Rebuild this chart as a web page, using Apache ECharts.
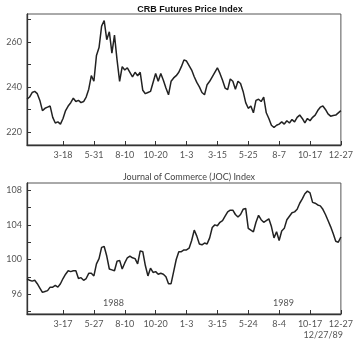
<!DOCTYPE html>
<html><head><meta charset="utf-8">
<script src="https://cdn.jsdelivr.net/npm/echarts@6/dist/echarts.min.js"></script>
<style>html,body{margin:0;padding:0;background:#fff}#c{width:356px;height:346px}</style>
</head><body><div id="c"></div>
<script>
// Tick labels (dates) on each x axis
const crbTickLabels = ['3-18','5-31','8-10','10-20','1-3','3-15','5-25','8-7','10-17','12-27'];
const jocTickLabels = ['3-17','5-27','8-10','10-20','1-3','3-15','5-24','8-4','10-17','12-27'];
// sample points: first labelled tick at sample 14, one tick every 12 samples
const tickStart = 14, tickStep = 12;

// CRB Futures Price Index (roughly weekly samples, 1988-1989)
const crbValues = [
 234.5,235.5,237.5,238,237,234,229.5,230.5,231,231.5,
 226.5,224,224.5,223.5,226,229.5,231.5,233,235,233.5,
 234,233,233.5,235.5,239,245,242.5,254,257.5,267,
 269.5,261,264.5,255,263,252,242.5,249,247.5,248.5,
 246.5,244.5,246.5,245,246.5,238.5,237,237.5,238,242,
 246,242.5,246,243,239.5,236.5,242.5,244,245,246.5,
 249,252,251.5,249.5,247.5,244.5,242,240,237.5,236.5,
 241,242.5,244.5,246.5,248.5,246,243,239.5,238.8,243.5,
 242.5,239,242.5,241.5,238,233,230.5,231.5,228.5,234,
 234.5,233.5,235.5,228.5,226,223,222,223,223.5,224.5,
 223.5,225,224,225.5,224.5,226.5,227.5,226,224,226,
 225,226.5,227.5,229.5,231,231.5,230,228,227,227.3,
 227.5,228.5,229.5
];
// Journal of Commerce (JOC) Index
const jocValues = [
 97.8,97.6,97.5,97.6,97.2,96.7,96.2,96.3,96.4,96.8,
 96.8,97.0,96.8,97.2,97.8,98.3,98.7,98.6,98.7,98.7,
 97.8,97.9,97.6,97.8,98.4,98.4,98.1,99.5,100.1,101.4,
 101.5,100.4,98.9,98.8,98.7,99.8,99.9,98.9,99.6,100.2,
 100.4,100.2,100.1,99.5,101.0,100.9,99.3,98.1,99.0,98.5,
 98.6,98.3,98.4,98.3,98.0,97.2,97.2,98.6,100.0,100.9,
 100.9,101.1,101.1,101.3,102.2,103.4,102.7,101.8,101.7,101.9,
 101.8,102.5,103.7,104.0,103.9,104.3,104.5,105.0,105.5,105.7,
 105.7,105.2,104.9,105.2,105.8,105.9,103.6,103.4,103.2,104.3,
 105.1,104.6,104.3,104.5,104.7,103.8,102.5,103.2,102.2,103.3,
 103.6,104.6,105.0,105.4,105.5,105.8,106.5,107.0,107.6,107.9,
 107.7,106.6,106.5,106.3,106.2,105.8,105.2,104.5,103.8,103.0,
 102.1,102.0,102.6
];

function buildCategories(n, labels) {
  const cats = [];
  for (let i = 0; i < n; i++) {
    const k = (i - tickStart) / tickStep;
    cats.push(i >= tickStart && Number.isInteger(k) && labels[k] !== undefined ? labels[k] : '');
  }
  return cats;
}
const crbCats = buildCategories(crbValues.length, crbTickLabels);
const jocCats = buildCategories(jocValues.length, jocTickLabels);

const txt = '#555';
const fontFam = 'Lato, "DejaVu Sans", sans-serif';

function xAxis(idx, cats) {
  return {
    type: 'category', gridIndex: idx, data: cats, boundaryGap: false,
    axisLine: { lineStyle: { color: '#333', width: 1.3 } },
    axisTick: { inside: true, length: 4, lineStyle: { color: '#333' },
      interval: function (i, v) { return v !== ''; } },
    axisLabel: { color: txt, fontSize: 9, fontFamily: fontFam, margin: 6,
      interval: function (i, v) { return v !== ''; } },
    splitLine: { show: false }
  };
}
function yAxis(idx, min, max, step, labelEvery) {
  return {
    type: 'value', gridIndex: idx, min: min, max: max,
    splitNumber: Math.round((max - min) / step), minInterval: step, maxInterval: step,
    axisLine: { show: true, lineStyle: { color: '#333', width: 1.3 } },
    axisTick: { show: true, inside: true, length: 4, lineStyle: { color: '#333' } },
    axisLabel: { color: txt, fontSize: 9, fontFamily: fontFam, margin: 5,
      showMinLabel: false, showMaxLabel: false,
      formatter: function (v) { return (Math.abs(v % labelEvery) < 1e-6) ? String(v) : ''; } },
    splitLine: { show: false }
  };
}

const chart = echarts.init(document.getElementById('c'), null, { renderer: 'canvas' });
chart.setOption({
  backgroundColor: '#fff',
  animation: false,
  title: [
    { text: 'CRB Futures Price Index', left: 185, top: 0, textAlign: 'center',
      textStyle: { fontSize: 9, fontWeight: 'bold', color: '#111', fontFamily: '"Liberation Sans", Arial, sans-serif' } },
    { text: 'Journal of Commerce (JOC) Index', left: 184, top: 168, textAlign: 'center',
      textStyle: { fontSize: 9, fontWeight: 'normal', color: '#444', fontFamily: fontFam } }
  ],
  grid: [
    { left: 27, right: 13, top: 14, height: 131, show: true, borderColor: '#555', borderWidth: 1 },
    { left: 27, right: 13, top: 183, height: 131, show: true, borderColor: '#555', borderWidth: 1 }
  ],
  xAxis: [ xAxis(0, crbCats), xAxis(1, jocCats) ],
  yAxis: [ yAxis(0, 214.2, 272.4, 10, 20), yAxis(1, 93.7, 108.84, 2, 4) ],
  graphic: [
    { type: 'text', left: 103, top: 299, style: { text: '1988', fill: txt, fontSize: 9, fontFamily: fontFam } },
    { type: 'text', left: 273, top: 299, style: { text: '1989', fill: txt, fontSize: 9, fontFamily: fontFam } },
    { type: 'text', right: 13, top: 331, style: { text: '12/27/89', fill: txt, fontSize: 9, fontFamily: fontFam } }
  ],
  series: [
    { type: 'line', xAxisIndex: 0, yAxisIndex: 0, data: crbValues, showSymbol: false,
      lineStyle: { color: '#222', width: 1.5 }, silent: true },
    { type: 'line', xAxisIndex: 1, yAxisIndex: 1, data: jocValues, showSymbol: false,
      lineStyle: { color: '#222', width: 1.5 }, silent: true }
  ]
});
</script></body></html>
